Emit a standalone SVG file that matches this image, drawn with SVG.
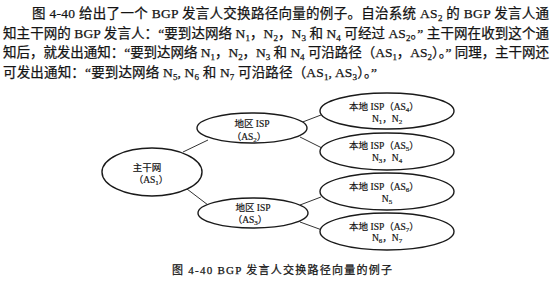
<svg xmlns="http://www.w3.org/2000/svg" width="554" height="281" viewBox="0 0 554 281">
  <style>
    text { font-family: "Liberation Serif", "Noto Sans CJK SC", serif; fill: #141414; stroke: #141414; stroke-width: 0.25; }
    .para { font-size: 13.5px; }
    .s { font-size: 9px; baseline-shift: -3px; }
    .lbl { font-size: 9.5px; text-anchor: middle; stroke-width: 0.2; }
    .ls { font-size: 7px; baseline-shift: -2px; }
    .node { fill: #ffffff; stroke: #1a1a1a; stroke-width: 1.4; }
    .link { stroke: #333333; stroke-width: 1; fill: none; }
    .cap { font-size: 11px; }
  </style>

  <rect width="554" height="281" fill="#ffffff"/>

  <!-- body paragraph -->
  <g id="paragraph" class="para">
    <text x="32" y="17.5" textLength="517" lengthAdjust="spacing">图 4-40 给出了一个 BGP 发言人交换路径向量的例子。自治系统 AS<tspan class="s">2</tspan> 的 BGP 发言人通</text>
    <text x="3" y="37.5" textLength="546" lengthAdjust="spacing">知主干网的 BGP 发言人：“要到达网络 N<tspan class="s">1</tspan>，N<tspan class="s">2</tspan>，N<tspan class="s">3</tspan> 和 N<tspan class="s">4</tspan> 可经过 AS<tspan class="s">2</tspan>。” 主干网在收到这个通</text>
    <text x="3" y="56.5" textLength="546" lengthAdjust="spacing">知后，就发出通知：“要到达网络 N<tspan class="s">1</tspan>，N<tspan class="s">2</tspan>，N<tspan class="s">3</tspan> 和 N<tspan class="s">4</tspan> 可沿路径（AS<tspan class="s">1</tspan>，AS<tspan class="s">2</tspan>）。” 同理，主干网还</text>
    <text x="3" y="76.5" textLength="374" lengthAdjust="spacing">可发出通知：“要到达网络 N<tspan class="s">5</tspan>, N<tspan class="s">6</tspan> 和 N<tspan class="s">7</tspan> 可沿路径（AS<tspan class="s">1</tspan>, AS<tspan class="s">3</tspan>）。”</text>
  </g>

  <!-- connectors between autonomous systems -->
  <g id="connectors">
    <line class="link" x1="183" y1="152" x2="208" y2="140"/>
    <line class="link" x1="187" y1="189" x2="208" y2="205"/>
    <line class="link" x1="300" y1="123" x2="321" y2="115"/>
    <line class="link" x1="300" y1="137" x2="322" y2="148"/>
    <line class="link" x1="300" y1="205" x2="321" y2="197"/>
    <line class="link" x1="300" y1="222" x2="322" y2="230"/>
  </g>

  <g id="as1">
    <ellipse class="node" cx="152" cy="172" rx="50" ry="24"/>
    <text class="lbl" x="147" y="170.5">主干网</text>
    <text class="lbl" x="151" y="182.5">（AS<tspan class="ls">1</tspan>）</text>
  </g>

  <g id="as2">
    <ellipse class="node" cx="252" cy="128" rx="55" ry="15"/>
    <text class="lbl" x="252" y="126.5">地区 ISP</text>
    <text class="lbl" x="249" y="139.5">（AS<tspan class="ls">2</tspan>）</text>
  </g>

  <g id="as3">
    <ellipse class="node" cx="253" cy="213" rx="55" ry="15"/>
    <text class="lbl" x="253" y="210.5">地区 ISP</text>
    <text class="lbl" x="250" y="222.5">（AS<tspan class="ls">3</tspan>）</text>
  </g>

  <g id="as4">
    <ellipse class="node" cx="387" cy="111" rx="67" ry="18"/>
    <text class="lbl" x="384" y="109.5">本地 ISP（AS<tspan class="ls">4</tspan>）</text>
    <text class="lbl" x="387" y="121.5">N<tspan class="ls">1</tspan>，N<tspan class="ls">2</tspan></text>
  </g>

  <g id="as5">
    <ellipse class="node" cx="387" cy="151.5" rx="67" ry="18.5"/>
    <text class="lbl" x="384" y="148.5">本地 ISP（AS<tspan class="ls">5</tspan>）</text>
    <text class="lbl" x="387" y="160.5">N<tspan class="ls">3</tspan>，N<tspan class="ls">4</tspan></text>
  </g>

  <g id="as6">
    <ellipse class="node" cx="387" cy="191.5" rx="67" ry="18.5"/>
    <text class="lbl" x="384" y="189.5">本地 ISP（AS<tspan class="ls">6</tspan>）</text>
    <text class="lbl" x="387" y="201.5">N<tspan class="ls">5</tspan></text>
  </g>

  <g id="as7">
    <ellipse class="node" cx="387" cy="231.5" rx="67" ry="18.5"/>
    <text class="lbl" x="384" y="229.5">本地 ISP（AS<tspan class="ls">7</tspan>）</text>
    <text class="lbl" x="387" y="240.5">N<tspan class="ls">6</tspan>，N<tspan class="ls">7</tspan></text>
  </g>

  <!-- figure caption -->
  <text id="caption" class="cap" x="172" y="274" textLength="220" lengthAdjust="spacing">图 4-40   BGP 发言人交换路径向量的例子</text>
</svg>
